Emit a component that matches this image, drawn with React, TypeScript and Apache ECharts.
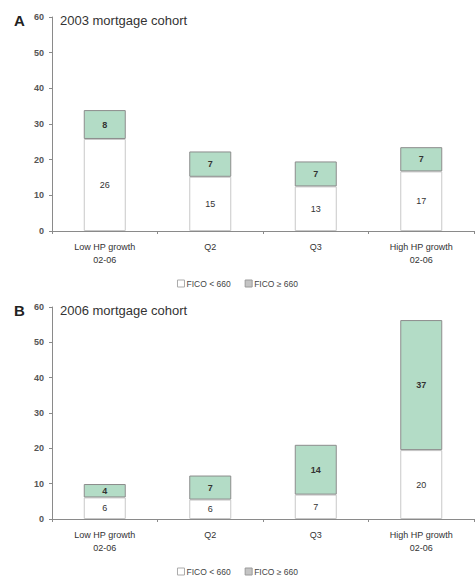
import React, { useEffect, useRef } from "react";
import * as echarts from "echarts";

const categories = ["Low HP growth\n02-06", "Q2", "Q3", "High HP growth\n02-06"];
const lowFico2003 = [25.8, 15.2, 12.5, 16.7];
const highFico2003 = [8.1, 7.1, 7.0, 6.8];
const lowFico2006 = [6.1, 5.5, 6.9, 19.5];
const highFico2006 = [3.8, 6.8, 14.1, 36.8];
const yTicks = [0, 10, 20, 30, 40, 50, 60];
const seriesNames = ["FICO < 660", "FICO \u2265 660"];
const panelTitles = ["2003 mortgage cohort", "2006 mortgage cohort"];
const panelLetters = ["A", "B"];

const FONT = "Liberation Sans, Arial, sans-serif";
const GREEN = "#b3dcc6";

export default function App() {
  const ref = useRef<HTMLDivElement>(null);
  useEffect(() => {
    document.body.style.margin = "0";
    const chart = echarts.init(ref.current!, null, { renderer: "svg" });
    const grids = [
      { left: 52, right: 1, top: 17, height: 214 },
      { left: 52, right: 1, top: 307, height: 212 },
    ];
    const xAxes = grids.map((_, i) => ({
      type: "category",
      gridIndex: i,
      data: categories,
      axisLine: { lineStyle: { color: "#8a8a8a", width: 1 } },
      axisTick: { show: true, length: 3, lineStyle: { color: "#8a8a8a" } },
      axisLabel: {
        color: "#333",
        fontSize: 9,
        fontFamily: FONT,
        lineHeight: 13,
        margin: 9,
        interval: 0,
      },
    }));
    const yAxes = grids.map((_, i) => ({
      type: "value",
      gridIndex: i,
      min: yTicks[0],
      max: yTicks[yTicks.length - 1],
      interval: 10,
      axisLine: { show: true, lineStyle: { color: "#8a8a8a", width: 1 } },
      axisTick: { show: true, length: 3, lineStyle: { color: "#8a8a8a" } },
      splitLine: { show: false },
      axisLabel: { color: "#555", fontSize: 9, fontFamily: FONT, fontWeight: "bold", margin: 8 },
    }));
    const label = {
      show: true,
      position: "inside",
      color: "#333",
      fontSize: 9,
      fontFamily: FONT,
      formatter: (p: any) => String(Math.round(p.value)),
    };
    const data = [
      [lowFico2003, highFico2003],
      [lowFico2006, highFico2006],
    ];
    const series: any[] = [];
    data.forEach((pair, i) => {
      series.push({
        type: "bar",
        name: seriesNames[0],
        xAxisIndex: i,
        yAxisIndex: i,
        stack: "s" + i,
        barWidth: 42,
        data: pair[0],
        itemStyle: { color: "#ffffff", borderColor: "#c8c8c8", borderWidth: 1 },
        label,
      });
      series.push({
        type: "bar",
        name: seriesNames[1],
        xAxisIndex: i,
        yAxisIndex: i,
        stack: "s" + i,
        barWidth: 42,
        data: pair[1],
        itemStyle: { color: GREEN, borderColor: "#8c8c8c", borderWidth: 1 },
        label: { ...label, fontWeight: "bold" },
      });
    });
    const legendData = [
      { name: seriesNames[0], itemStyle: { color: "#ffffff", borderColor: "#aaaaaa", borderWidth: 1 } },
      { name: seriesNames[1], itemStyle: { color: "#c4c4c4", borderColor: "#9a9a9a", borderWidth: 1 } },
    ];
    const legends = [274, 562].map((top) => ({
      top,
      left: "center",
      itemWidth: 7,
      itemHeight: 7,
      itemGap: 14,
      icon: "rect",
      selectedMode: false,
      data: legendData,
      textStyle: { color: "#444", fontSize: 8.5, fontFamily: FONT, padding: [0, 0, 0, -3] },
    }));
    const titles: any[] = [];
    [14, 304].forEach((top, i) => {
      titles.push({
        text: panelLetters[i],
        left: 14,
        top: top - 1,
        textStyle: { fontSize: 15, fontWeight: "bold", color: "#222", fontFamily: FONT },
      });
      titles.push({
        text: panelTitles[i],
        left: 60,
        top: top,
        textStyle: { fontSize: 13, fontWeight: "normal", color: "#333", fontFamily: FONT },
      });
    });
    chart.setOption({
      animation: false,
      backgroundColor: "#ffffff",
      title: titles.map((t) => ({ ...t, padding: 0 })),
      grid: grids,
      xAxis: xAxes,
      yAxis: yAxes,
      legend: legends,
      series,
    });
    return () => chart.dispose();
  }, []);
  return <div ref={ref} style={{ width: 475, height: 578 }} />;
}
